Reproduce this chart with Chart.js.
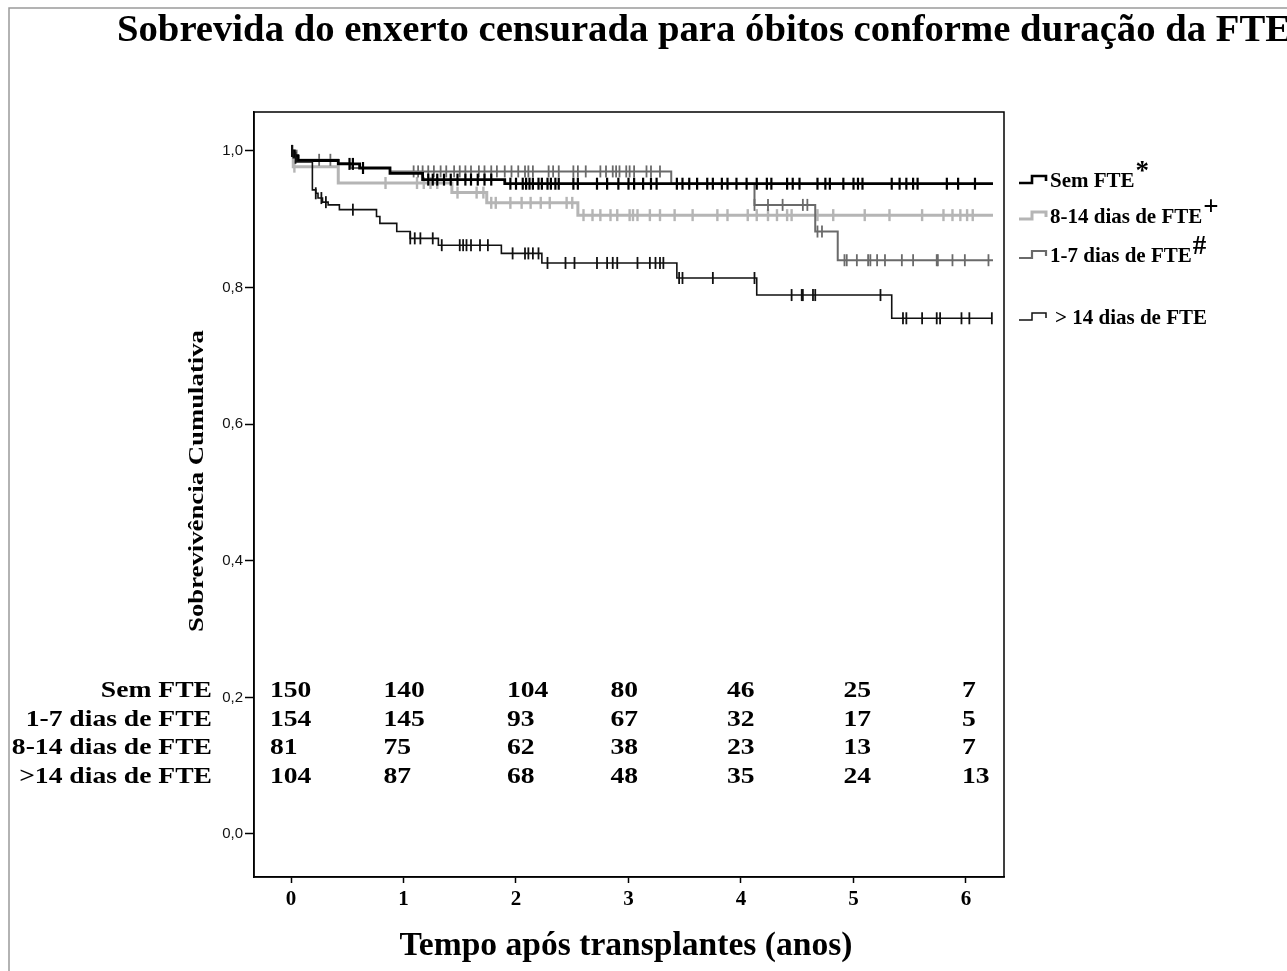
<!DOCTYPE html>
<html>
<head>
<meta charset="utf-8">
<script src="https://cdn.jsdelivr.net/npm/chart.js@4/dist/chart.umd.min.js"></script>
<style>
  html, body { margin: 0; padding: 0; background: #fff; }
  canvas { display: block; }
</style>
</head>
<body>
<canvas id="c" width="1287" height="971"></canvas>
<script>
// ---------------- DATA ----------------
const chartTitle = 'Sobrevida do enxerto censurada para óbitos conforme duração da FTE';
const xTitle = 'Tempo após transplantes (anos)';
const yTitle = 'Sobrevivência Cumulativa';
const seriesNames = ['Sem FTE', '8-14 dias de FTE', '1-7 dias de FTE', '> 14 dias de FTE'];
const seriesMarks = ['*', '+', '#', ''];
const xTicks = [0, 1, 2, 3, 4, 5, 6];
const yTicks = [0.0, 0.2, 0.4, 0.6, 0.8, 1.0];

// Kaplan-Meier steps: time (years) and survival after the event at that time
const semTimes = [0, 0.03, 0.06, 0.42, 0.61, 0.88, 1.17, 1.90, 6.24];
const semSurv  = [1.0, 0.993, 0.986, 0.981, 0.975, 0.967, 0.958, 0.952, 0.952];

const d814Times = [0, 0.02, 0.42, 1.43, 1.74, 2.55, 6.24];
const d814Surv  = [1.0, 0.977, 0.953, 0.939, 0.924, 0.906, 0.906];

const d17Times = [0, 0.03, 0.07, 0.42, 0.53, 0.88, 3.38, 4.12, 4.66, 4.86, 6.24];
const d17Surv  = [1.0, 0.993, 0.987, 0.982, 0.975, 0.970, 0.952, 0.921, 0.882, 0.840, 0.840];

const gt14Times = [0, 0.02, 0.05, 0.19, 0.22, 0.24, 0.28, 0.33, 0.43, 0.76, 0.79, 0.94, 1.06, 1.31, 1.87, 2.23, 3.43, 4.14, 5.34, 6.23];
const gt14Surv  = [1.0, 0.99, 0.984, 0.943, 0.938, 0.931, 0.925, 0.921, 0.914, 0.904, 0.894, 0.882, 0.872, 0.862, 0.850, 0.836, 0.814, 0.789, 0.755, 0.755];

// censored observations (years)
const semCensor = [0.01, 0.52, 0.55, 0.64, 1.22, 1.26, 1.3, 1.36, 1.42, 1.48, 1.55, 1.6, 1.66, 1.72, 1.78, 1.95, 2.0, 2.06, 2.09, 2.12, 2.15, 2.2, 2.23, 2.28, 2.31, 2.35, 2.38, 2.51, 2.55, 2.72, 2.81, 2.91, 3.0, 3.05, 3.13, 3.2, 3.25, 3.43, 3.48, 3.54, 3.61, 3.7, 3.75, 3.83, 3.88, 3.96, 4.05, 4.14, 4.23, 4.27, 4.41, 4.46, 4.52, 4.68, 4.75, 4.79, 4.91, 5.0, 5.04, 5.08, 5.34, 5.41, 5.47, 5.53, 5.57, 5.83, 5.93, 6.08];
const d814Censor = [0.03, 0.84, 1.12, 1.18, 1.24, 1.3, 1.48, 1.65, 1.71, 1.78, 1.82, 1.95, 2.05, 2.13, 2.22, 2.3, 2.45, 2.5, 2.6, 2.68, 2.75, 2.84, 2.9, 3.01, 3.04, 3.08, 3.19, 3.28, 3.41, 3.57, 3.79, 3.88, 4.06, 4.14, 4.24, 4.32, 4.41, 4.45, 4.68, 4.82, 5.1, 5.32, 5.61, 5.8, 5.88, 5.95, 6.01, 6.06];
const d17Censor = [0.05, 0.25, 0.35, 1.09, 1.13, 1.17, 1.22, 1.27, 1.33, 1.38, 1.45, 1.5, 1.55, 1.6, 1.67, 1.72, 1.78, 1.83, 1.9, 1.96, 2.02, 2.08, 2.11, 2.15, 2.29, 2.33, 2.38, 2.51, 2.55, 2.62, 2.75, 2.8, 2.86, 2.89, 2.92, 2.98, 3.01, 3.05, 3.16, 3.2, 3.28, 4.12, 4.24, 4.37, 4.55, 4.59, 4.68, 4.72, 4.92, 4.94, 5.03, 5.13, 5.15, 5.21, 5.28, 5.43, 5.53, 5.74, 5.75, 5.88, 5.99, 6.2];
const gt14Censor = [0.01, 0.04, 0.22, 0.27, 0.31, 0.55, 1.06, 1.1, 1.15, 1.26, 1.34, 1.5, 1.53, 1.56, 1.6, 1.68, 1.75, 1.97, 2.08, 2.11, 2.15, 2.2, 2.28, 2.44, 2.52, 2.72, 2.81, 2.86, 2.9, 3.08, 3.19, 3.24, 3.28, 3.31, 3.45, 3.48, 3.75, 4.12, 4.45, 4.54, 4.55, 4.64, 4.66, 5.24, 5.44, 5.47, 5.61, 5.74, 5.77, 5.96, 6.03, 6.23];

// number at risk
const riskLabels = ['Sem FTE', '1-7 dias de FTE', '8-14 dias de FTE', '>14 dias de FTE'];
const riskSem  = [150, 140, 104, 80, 46, 25, 7];
const risk17   = [154, 145, 93, 67, 32, 17, 5];
const risk814  = [81, 75, 62, 38, 23, 13, 7];
const riskGt14 = [104, 87, 68, 48, 35, 24, 13];

// ---------------- STYLE / LAYOUT ----------------
const SERIF = "'Liberation Serif','Times New Roman',serif";
const SANS = "'Liberation Sans',Arial,sans-serif";
const colSem = '#000000', col814 = '#b5b5b5', col17 = '#6a6a6a', colGt14 = '#111111';
const riskColShift = [-21, -20, -9, -18, -14, -10, -4];

function survAt(times, surv, t) {
  let v = surv[0];
  for (let i = 0; i < times.length; i++) { if (times[i] <= t) v = surv[i]; }
  return v;
}
function stepData(times, surv) { return times.map((t, i) => ({ x: t, y: surv[i] })); }
function censorData(c, times, surv) { return c.map(t => ({ x: t, y: survAt(times, surv, t) })); }

function lineDs(label, times, surv, color, w, order) {
  return { type: 'line', label, data: stepData(times, surv), stepped: 'before', borderColor: color,
    borderWidth: w, pointRadius: 0, fill: false, order };
}
function censorDs(label, c, times, surv, color, w, order) {
  return { type: 'scatter', label, data: censorData(c, times, surv), showLine: false, pointStyle: 'line',
    rotation: 90, radius: 6, pointRadius: 6, borderColor: color, backgroundColor: color, borderWidth: w, order };
}

function drawText(ctx, s, x, y, size, opts = {}) {
  ctx.save();
  ctx.font = (opts.weight || 'bold') + ' ' + size + 'px ' + (opts.family || SERIF);
  ctx.fillStyle = '#000';
  ctx.textAlign = opts.align || 'left';
  ctx.textBaseline = 'alphabetic';
  ctx.translate(x, y);
  if (opts.rot) ctx.rotate(opts.rot);
  let sx = opts.sx || 1;
  if (opts.fit) sx = opts.fit / ctx.measureText(s).width;
  ctx.scale(sx, 1);
  ctx.fillText(s, 0, 0);
  const w = ctx.measureText(s).width * sx;
  ctx.restore();
  return w;
}

const decor = {
  id: 'decor',
  beforeDraw(chart) {
    const ctx = chart.ctx;
    ctx.save();
    ctx.fillStyle = '#fff';
    ctx.fillRect(0, 0, chart.width, chart.height);
    ctx.strokeStyle = '#9a9a9a';
    ctx.lineWidth = 1.5;
    ctx.beginPath();
    ctx.moveTo(9, chart.height); ctx.lineTo(9, 8); ctx.lineTo(chart.width, 8);
    ctx.stroke();
    ctx.restore();
  },
  beforeDatasetsDraw(chart) {
    const ctx = chart.ctx, a = chart.chartArea;
    ctx.save();
    ctx.strokeStyle = '#000';
    ctx.lineWidth = 1.5;
    ctx.strokeRect(a.left, a.top, a.right - a.left, a.bottom - a.top);
    ctx.restore();
  },
  afterDraw(chart) {
    const ctx = chart.ctx, xs = chart.scales.x, ys = chart.scales.y;
    // title
    drawText(ctx, chartTitle, 117, 41, 38.5, { fit: 1174 });
    // axis titles
    drawText(ctx, xTitle, 626, 955, 33.5, { align: 'center', fit: 453 });
    drawText(ctx, yTitle, 203, 481, 20, { align: 'center', rot: -Math.PI / 2, fit: 302 });

    // number at risk table
    const rows = [riskSem, risk17, risk814, riskGt14];
    const base0 = ys.getPixelForValue(0.2);
    const rowBase = [0, 29, 57, 86].map(d => base0 + d);
    rows.forEach((r, ri) => {
      drawText(ctx, riskLabels[ri], 212, rowBase[ri], 23, { align: 'right', sx: 1.2 });
      r.forEach((n, ci) => {
        drawText(ctx, String(n), xs.getPixelForValue(xTicks[ci]) + riskColShift[ci], rowBase[ri], 23, { sx: 1.2 });
      });
    });

    // legend
    const legItems = [
      { c: colSem, w: 2.6, y: 187 },
      { c: col814, w: 3, y: 223 },
      { c: col17, w: 2.2, y: 262 },
      { c: colGt14, w: 1.5, y: 324 }
    ];
    legItems.forEach((it, i) => {
      const x0 = 1019, yb = it.y;
      ctx.save();
      ctx.strokeStyle = it.c; ctx.lineWidth = it.w;
      ctx.beginPath();
      ctx.moveTo(x0, yb - 4); ctx.lineTo(x0 + 13, yb - 4); ctx.lineTo(x0 + 13, yb - 11);
      ctx.lineTo(x0 + 27, yb - 11); ctx.lineTo(x0 + 27, yb - 6);
      ctx.stroke();
      ctx.restore();
      const tx = i === 3 ? 1055 : 1050;
      const w = drawText(ctx, seriesNames[i], tx, yb, 21);
      if (seriesMarks[i]) drawText(ctx, seriesMarks[i], tx + w + 1, yb - 8, 27);
    });
  }
};

const ctx = document.getElementById('c').getContext('2d');
new Chart(ctx, {
  data: {
    datasets: [
      lineDs(seriesNames[0], semTimes, semSurv, colSem, 2.8, 1),
      censorDs('c0', semCensor, semTimes, semSurv, colSem, 2.2, 1),
      lineDs(seriesNames[2], d17Times, d17Surv, col17, 2, 2),
      censorDs('c2', d17Censor, d17Times, d17Surv, col17, 1.8, 2),
      lineDs(seriesNames[1], d814Times, d814Surv, col814, 3, 3),
      censorDs('c1', d814Censor, d814Times, d814Surv, col814, 2.4, 3),
      lineDs(seriesNames[3], gt14Times, gt14Surv, colGt14, 1.6, 0),
      censorDs('c3', gt14Censor, gt14Times, gt14Surv, colGt14, 1.8, 0)
    ]
  },
  options: {
    responsive: false,
    animation: false,
    events: [],
    layout: { padding: { left: 214, right: 283, top: 112, bottom: 54 } },
    plugins: { legend: { display: false }, tooltip: { enabled: false }, title: { display: false } },
    scales: {
      x: {
        type: 'linear', min: -0.329, max: 6.338,
        afterBuildTicks: s => { s.ticks = xTicks.map(v => ({ value: v })); },
        afterFit: s => { s.height = 40; },
        grid: { drawOnChartArea: false, drawTicks: true, tickLength: 6, color: '#000', tickWidth: 1.5 },
        border: { display: true, color: '#000', width: 1.5 },
        ticks: { color: '#000', padding: 4, maxRotation: 0, font: { family: SERIF, weight: 'bold', size: 21 },
          callback: v => String(v) }
      },
      y: {
        type: 'linear', min: -0.063, max: 1.057,
        afterBuildTicks: s => { s.ticks = yTicks.map(v => ({ value: v })); },
        afterFit: s => { s.width = 40; },
        grid: { drawOnChartArea: false, drawTicks: true, tickLength: 9, color: '#000', tickWidth: 1.5 },
        border: { display: true, color: '#000', width: 1.5 },
        ticks: { color: '#111', padding: 2, font: { family: SANS, size: 15 },
          callback: v => Number(v).toFixed(1).replace('.', ',') }
      }
    }
  },
  plugins: [decor]
});
</script>
</body>
</html>
